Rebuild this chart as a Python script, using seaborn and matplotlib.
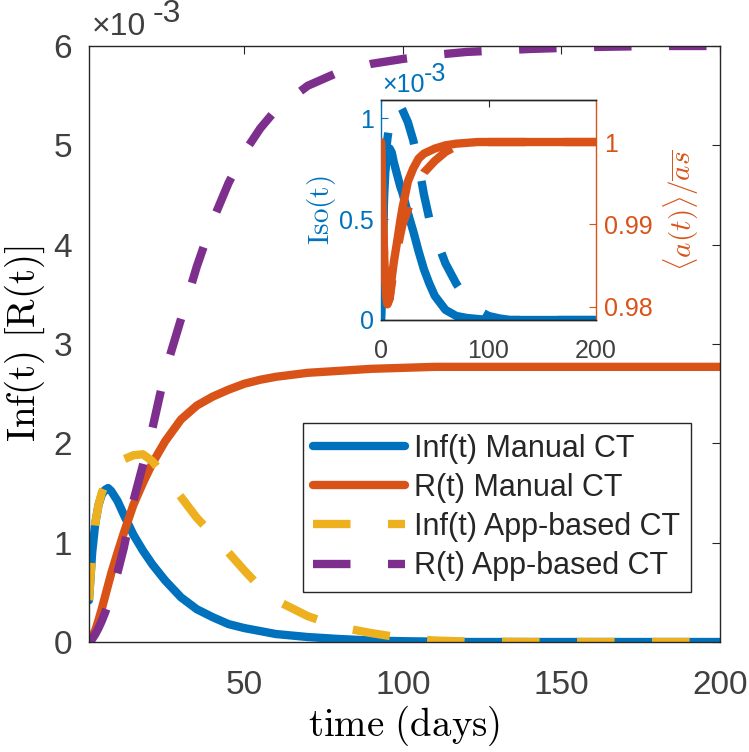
import numpy as np
import pandas as pd
import matplotlib
matplotlib.use("Agg")
import matplotlib.pyplot as plt
from matplotlib.lines import Line2D
import seaborn as sns

# main panel, values in units of 1e-3
t_main = [1, 2, 3, 4, 5, 6, 7, 8, 10, 12, 15, 18, 21, 25, 30, 35, 40, 45, 50,
          55, 60, 70, 80, 90, 100, 110, 120, 140, 160, 180, 200]
inf_manual = [0.42, 0.90, 1.20, 1.38, 1.48, 1.53, 1.55, 1.52, 1.42, 1.28, 1.08, 0.92,
              0.78, 0.62, 0.45, 0.33, 0.25, 0.18, 0.14, 0.11, 0.08, 0.05, 0.03,
              0.015, 0.008, 0.004, 0.0, 0.0, 0.0, 0.0, 0.0]
r_manual = [0.0, 0.05, 0.12, 0.22, 0.33, 0.45, 0.57, 0.69, 0.90, 1.10, 1.38, 1.60,
            1.80, 2.02, 2.24, 2.38, 2.47, 2.54, 2.60, 2.64, 2.67, 2.71, 2.73, 2.75,
            2.76, 2.77, 2.77, 2.77, 2.77, 2.77, 2.77]
inf_app = [0.42, 0.90, 1.20, 1.38, 1.50, 1.58, 1.65, 1.70, 1.78, 1.84, 1.88, 1.89,
           1.82, 1.66, 1.46, 1.25, 1.08, 0.90, 0.72, 0.55, 0.42, 0.26, 0.15, 0.09,
           0.04, 0.015, 0.005, 0.0, 0.0, 0.0, 0.0]
r_app = [0.0, 0.03, 0.08, 0.14, 0.21, 0.29, 0.38, 0.48, 0.70, 0.95, 1.42, 1.78,
         2.15, 2.72, 3.25, 3.78, 4.24, 4.62, 4.93, 5.17, 5.36, 5.60, 5.74, 5.82,
         5.87, 5.91, 5.94, 5.97, 5.99, 6.0, 6.0]

# inset
t_in = [0, 1, 2, 3, 4, 5, 6, 8, 10, 12, 15, 18, 20, 25, 30, 35, 40, 45, 50, 60,
        70, 80, 90, 100, 110, 120, 140, 160, 200]
iso_manual = [0.0, 0.20, 0.45, 0.62, 0.73, 0.80, 0.84, 0.85, 0.83, 0.78, 0.72, 0.66,
              0.63, 0.53, 0.44, 0.34, 0.25, 0.18, 0.12, 0.05, 0.02, 0.01, 0.005,
              0.0, 0.0, 0.0, 0.0, 0.0, 0.0]
iso_app = [0.0, 0.15, 0.45, 0.65, 0.76, 0.85, 0.90, 0.97, 1.02, 1.05, 1.07, 1.06,
           1.04, 0.98, 0.89, 0.77, 0.62, 0.50, 0.42, 0.28, 0.18, 0.10, 0.05, 0.02,
           0.008, 0.0, 0.0, 0.0, 0.0]
a_manual = [1.0, 0.995, 0.990, 0.986, 0.983, 0.9812, 0.9804, 0.9810, 0.9835, 0.9855,
            0.9879, 0.9905, 0.9920, 0.9952, 0.9968, 0.9980, 0.9986, 0.9989, 0.9992,
            0.9996, 0.9998, 0.9999, 1.0, 1.0, 1.0, 1.0, 1.0, 1.0, 1.0]
a_app = [1.0, 0.995, 0.990, 0.986, 0.983, 0.9812, 0.9803, 0.9810, 0.9828, 0.9845,
         0.9868, 0.9888, 0.9900, 0.9918, 0.9938, 0.9952, 0.9963, 0.9970, 0.9977,
         0.9988, 0.9995, 0.9998, 1.0, 1.0, 1.0, 1.0, 1.0, 1.0, 1.0]

labels = ["Inf(t) Manual CT", "R(t) Manual CT", "Inf(t) App-based CT", "R(t) App-based CT"]
blue, orange, yellow, purple = "#0072BD", "#D95319", "#EDB120", "#7E2F8E"
dark = "#262626"
grey = "#404040"

sns.set_style("white")
plt.rcParams["font.family"] = ["Liberation Sans", "DejaVu Sans"]
plt.rcParams["mathtext.fontset"] = "cm"
plt.rcParams["axes.unicode_minus"] = False

LW = 6
DASH = (4.5, 4.5)

fig = plt.figure(figsize=(7.49, 7.52), dpi=100)
ax = fig.add_axes([89 / 749, 1 - 642 / 752, 631 / 749, 596 / 752])

main = pd.DataFrame({"t": t_main, "inf_m": inf_manual, "r_m": r_manual,
                     "inf_a": inf_app, "r_a": r_app})
series = [("inf_m", blue, False), ("r_m", orange, False),
          ("inf_a", yellow, True), ("r_a", purple, True)]
for col, c, dashed in series:
    sns.lineplot(data=main, x="t", y=col, ax=ax, color=c, linewidth=LW,
                 estimator=None, sort=False, legend=False)
    if dashed:
        ax.lines[-1].set_dashes(DASH)
        ax.lines[-1].set_dash_capstyle("butt")

ax.set_xlim(1, 200)
ax.set_ylim(0, 6)
ax.set_xticks([50, 100, 150, 200])
ax.set_yticks(range(0, 7))
ax.tick_params(axis="both", direction="in", length=6, width=0.8, colors=dark,
               labelcolor=grey, labelsize=24, top=True, right=True)
ax.tick_params(axis="x", pad=20)
ax.tick_params(axis="y", pad=12)
for s in ax.spines.values():
    s.set_color(dark)
    s.set_linewidth(1.0)
ax.set_xlabel(r"$\mathrm{time\ (days)}$", fontsize=28, color="black", labelpad=2)
ax.set_ylabel(r"$\mathrm{Inf(t)\ [R(t)]}$", fontsize=28, color="black", labelpad=5)
fig.text(92 / 749, 1 - 35 / 752, "×10", fontsize=23, color=grey, va="baseline")
fig.text(153 / 749, 1 - 22 / 752, "-3", fontsize=23, color=grey, va="baseline")

handles = []
for (col, c, dashed), lab in zip(series, labels):
    h = Line2D([], [], color=c, linewidth=LW)
    if dashed:
        h.set_dashes(DASH)
        h.set_dash_capstyle("butt")
    handles.append(h)
leg = ax.legend(handles, labels, loc="lower right", bbox_to_anchor=(0.954, 0.084),
                borderaxespad=0, fontsize=22, handlelength=3.0, handletextpad=0.3,
                labelspacing=0.3, borderpad=0.35, frameon=True, fancybox=False,
                framealpha=1, edgecolor=dark)
leg.get_frame().set_linewidth(1.0)

# inset
ins = fig.add_axes([381 / 749, 1 - 320 / 752, 215 / 749, 220 / 752])
inset = pd.DataFrame({"t": t_in, "iso_m": iso_manual, "iso_a": iso_app,
                      "a_m": a_manual, "a_a": a_app})
sns.lineplot(data=inset, x="t", y="iso_m", ax=ins, color=blue, linewidth=LW,
             estimator=None, sort=False, legend=False)
sns.lineplot(data=inset, x="t", y="iso_a", ax=ins, color=blue, linewidth=LW,
             estimator=None, sort=False, legend=False)
ins.lines[-1].set_dashes(DASH)
ins.set_xlim(0, 200)
ins.set_ylim(0, 1.09)
ins.set_xticks([0, 100, 200])
ins.set_yticks([0, 0.5, 1])
ins.set_yticklabels(["0", "0.5", "1"])
ins.set_xlabel("")
ins.set_ylabel(r"$\mathrm{Iso(t)}$", fontsize=21, color=blue, labelpad=1)
ins.tick_params(axis="x", direction="in", length=5, width=0.8, colors=dark,
                labelcolor=grey, labelsize=18, pad=14, top=True)
ins.tick_params(axis="y", direction="in", length=5, width=0.8, colors=blue,
                labelcolor=blue, labelsize=18, pad=5)

tw = ins.twinx()
sns.lineplot(data=inset, x="t", y="a_m", ax=tw, color=orange, linewidth=LW,
             estimator=None, sort=False, legend=False)
sns.lineplot(data=inset, x="t", y="a_a", ax=tw, color=orange, linewidth=LW,
             estimator=None, sort=False, legend=False)
tw.lines[-1].set_dashes(DASH)
tw.set_ylim(0.9784, 1.0051)
tw.set_yticks([0.98, 0.99, 1.0])
tw.set_yticklabels(["0.98", "0.99", "1"])
tw.set_xlabel("")
tw.set_ylabel(r"$\langle a(t)\rangle/\overline{as}$", fontsize=21, color=orange,
              labelpad=6)
tw.tick_params(axis="y", direction="in", length=5, width=0.8, colors=orange,
               labelcolor=orange, labelsize=18, pad=6)

for a in (ins, tw):
    a.spines["top"].set_color(dark)
    a.spines["bottom"].set_color(dark)
    a.spines["left"].set_color(blue)
    a.spines["right"].set_color(orange)
    for s in a.spines.values():
        s.set_linewidth(1.0)
tw.spines["left"].set_visible(False)
ins.spines["right"].set_visible(False)
fig.text(382 / 749, 1 - 92 / 752, "×10", fontsize=18, color=blue, va="baseline")
fig.text(424 / 749, 1 - 81 / 752, "-3", fontsize=18, color=blue, va="baseline")

fig.savefig("out.png", dpi=100)
